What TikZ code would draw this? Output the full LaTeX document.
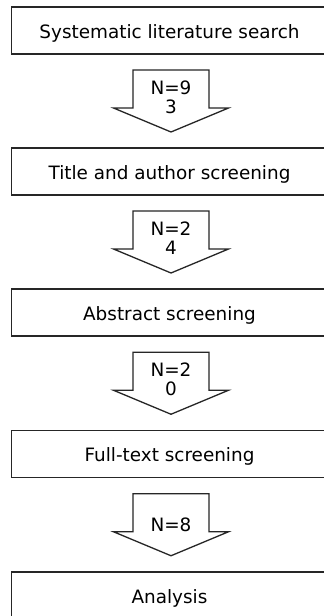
\documentclass[tikz,border=0pt]{standalone}
\usepackage{fontspec}
\setmainfont{DejaVu Sans}
\usetikzlibrary{calc}

\tikzset{
  outline/.style={draw=black!85, line width=1.3pt},
  stage/.style={rectangle, minimum width=315pt, minimum height=46.5pt,
    inner sep=0pt, font=\fontsize{18.4}{19}\selectfont,
    text height=15.6pt, text depth=0pt},
  count/.style={anchor=base, inner sep=0pt, font=\fontsize{18.4}{19}\selectfont},
  % down-pointing block arrow, centred on the pic origin
  flowarrow/.pic={
    \draw[outline, line join=miter, fill=white]
      (-38,-31) -- (38,-31) -- (38,7) -- (57.5,7) -- (0,31)
      -- (-57.5,7) -- (-38,7) -- cycle;
    \coordinate (-c) at (0,0);
  }
}

\begin{document}
\begin{tikzpicture}[x=1pt, y=-1pt]
  \fill[white] (0,0) rectangle (324,616);
  \useasboundingbox (0,0) rectangle (324,616);
  \clip (0,0) rectangle (324,616);

  % stages of the review
  \node[stage] (s1) at (169.5, 30.5)  {Systematic literature search};
  \node[stage] (s2) at (169.5, 171.5) {Title and author screening};
  \node[stage] (s3) at (169.5, 312.5) {Abstract screening};
  \node[stage] (s4) at (169.5, 454.0) {Full-text screening};
  \node[stage] (s5) at (169.5, 595.5) {Analysis};

  % stage frames run on past the right margin
  \foreach \s in {s1, s2, s3, s4, s5}
    \draw[outline] (\s.north west) rectangle ($(\s.south east)+(30,0)$);

  % block arrows between consecutive stages
  \foreach \u/\v in {1/2, 2/3, 3/4, 4/5} {
    \coordinate (m\u) at ($(s\u.south)!0.5!(s\v.north)+(1.5,0)$);
    \pic (a\u) at (m\u) {flowarrow};
  }

  % record counts
  \node[count] at ($(a1-c)+(0,-7)$) {N=9};
  \node[count] at ($(a1-c)+(0,12)$) {3};
  \node[count] at ($(a2-c)+(0,-7)$) {N=2};
  \node[count] at ($(a2-c)+(0,12)$) {4};
  \node[count] at ($(a3-c)+(0,-7)$) {N=2};
  \node[count] at ($(a3-c)+(0,12)$) {0};
  \node[count] at ($(a4-c)+(0,7)$)  {N=8};
\end{tikzpicture}
\end{document}
